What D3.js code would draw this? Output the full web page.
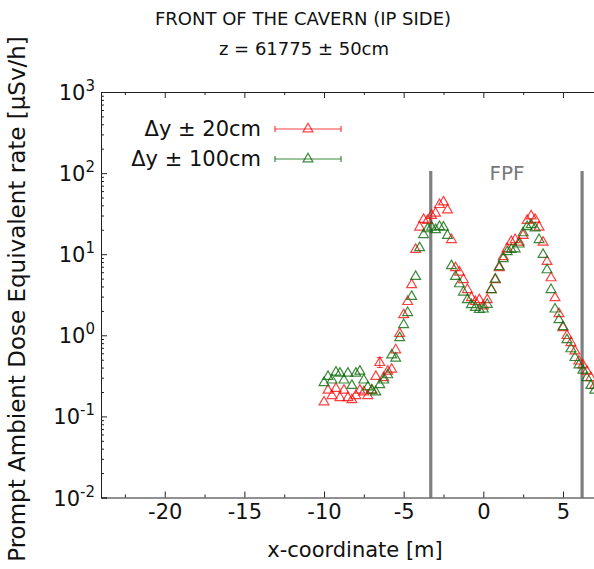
<!DOCTYPE html>
<html>
<head>
<meta charset="utf-8">
<script src="https://cdn.jsdelivr.net/npm/d3@7"></script>
<style>
  html, body { margin: 0; padding: 0; background: #fff; }
  svg { display: block; font-family: "DejaVu Sans", sans-serif; }
</style>
</head>
<body>
<svg id="chart" width="594" height="569"></svg>
<script>
// x positions of the bins [m]
const xBins = d3.range(0, 69).map(i => -10 + i * 0.25);

// Dose rate [µSv/h], Δy ± 20cm
const dose20 = [
  0.15, 0.21, 0.18, 0.22, 0.17, 0.21, 0.17, 0.16, 0.18, 0.21,
  0.20, 0.18, 0.21, 0.31, 0.46, 0.30, 0.36, 0.38, 0.66, 1.05,
  1.79, 2.6, 4.2, 11.4, 21.5, 26.7, 26, 30, 32, 40.8,
  44, 35, 15.1, 6.8, 6.0, 4.84, 3.65, 2.9, 2.6, 2.74,
  2.3, 2.74, 3.65, 4.84, 6.8, 9.3, 11.7, 14.3, 15.1, 14,
  17, 26, 29.5, 26.7, 21.5, 14, 8.1, 5.1, 2.9, 1.84,
  1.24, 0.99, 0.81, 0.64, 0.48, 0.43, 0.36, 0.30, 0.24
];

// Dose rate [µSv/h], Δy ± 100cm
const dose100 = [
  0.26, 0.31, 0.28, 0.35, 0.34, 0.28, 0.34, 0.24, 0.34, 0.36,
  0.28, 0.23, 0.21, 0.20, 0.245, 0.28, 0.325, 0.57, 0.52, 0.93,
  1.35, 1.9, 3.0, 5.3, 12.0, 17.4, 20.5, 21.5, 20, 21.8,
  21.5, 17, 7.2, 5.3, 4.3, 3.4, 2.74, 2.38, 2.2, 2.07,
  2.1, 2.4, 3.65, 4.9, 7.0, 8.8, 10.7, 11.4, 11.6, 13.3,
  18.3, 21.8, 23, 21, 15.1, 9.9, 6.4, 3.65, 2.1, 1.55,
  1.27, 0.88, 0.68, 0.53, 0.43, 0.37, 0.30, 0.24, 0.21
];

// statistical error on the Δy ± 20cm point at x = -6.5 m
const errX = [-6.5];
const errLo = [0.40];
const errHi = [0.53];

const xMajorTicks = [-20, -15, -10, -5, 0, 5];
const xMinorTicks = [-22.5, -17.5, -12.5, -7.5, -2.5, 2.5];
const yDecades = [-2, -1, 0, 1, 2, 3];
const fpfEdges = [-3.3, 6.2];
const seriesNames = ["Δy ± 20cm", "Δy ± 100cm"];

const svg = d3.select("#chart");
const plotLeft = 101, plotTop = 92, plotBottom = 497.5;
const pxPerMetre = 15.93;

const x = d3.scaleLinear().domain([-24, 24]).range([plotLeft, plotLeft + 48 * pxPerMetre]);
const y = d3.scaleLog().domain([1e-2, 1e3]).range([plotBottom, plotTop]);

const axisColor = "#222";
const red = "#ff0000", green = "#0b6b0b";

// Title
svg.append("text").attr("x", 303).attr("y", 25).attr("text-anchor", "middle")
  .attr("font-size", 18).attr("fill", "#111").text("FRONT OF THE CAVERN (IP SIDE)");
svg.append("text").attr("x", 304).attr("y", 55).attr("text-anchor", "middle")
  .attr("font-size", 18).attr("fill", "#111").text("z = 61775 ± 50cm");

// FPF boundaries
svg.append("g").selectAll("line").data(fpfEdges).join("line")
  .attr("x1", d => x(d)).attr("x2", d => x(d))
  .attr("y1", 171).attr("y2", plotBottom)
  .attr("stroke", "#7f7f7f").attr("stroke-width", 3.2);
svg.append("text").attr("x", 507).attr("y", 180).attr("text-anchor", "middle")
  .attr("font-size", 20).attr("fill", "#777").text("FPF");

// Axes
function styleAxis(g) {
  g.select(".domain").attr("stroke", axisColor);
  g.selectAll(".tick line").attr("stroke", axisColor);
  g.selectAll(".tick text").attr("fill", "#111").attr("font-size", 21)
    .attr("font-family", "DejaVu Sans, sans-serif");
}

svg.append("g").attr("transform", `translate(0,${plotBottom})`)
  .call(d3.axisBottom(x).tickValues(xMajorTicks).tickSize(-6).tickPadding(7)
    .tickFormat(d => d < 0 ? "-" + Math.abs(d) : String(d)))
  .call(styleAxis);
svg.append("g").attr("transform", `translate(0,${plotBottom})`)
  .call(d3.axisBottom(x).tickValues(xMinorTicks).tickSize(-3).tickFormat(""))
  .call(g => g.select(".domain").remove()).call(styleAxis);

svg.append("g").attr("transform", `translate(0,${plotTop})`)
  .call(d3.axisTop(x).tickValues(xMajorTicks).tickSize(-6).tickFormat(""))
  .call(styleAxis);
svg.append("g").attr("transform", `translate(0,${plotTop})`)
  .call(d3.axisTop(x).tickValues(xMinorTicks).tickSize(-3).tickFormat(""))
  .call(g => g.select(".domain").remove()).call(styleAxis);

const yMinor = [];
yDecades.slice(0, -1).forEach(e => { for (let m = 2; m <= 9; m++) yMinor.push(m * Math.pow(10, e)); });

svg.append("g").attr("transform", `translate(${plotLeft},0)`)
  .call(d3.axisLeft(y).tickValues(yDecades.map(e => Math.pow(10, e))).tickSize(-6).tickFormat(""))
  .call(styleAxis);
svg.append("g").attr("transform", `translate(${plotLeft},0)`)
  .call(d3.axisLeft(y).tickValues(yMinor).tickSize(-3).tickFormat(""))
  .call(g => g.select(".domain").remove()).call(styleAxis);

// Decade labels 10^n
const yl = svg.append("g").attr("font-size", 21).attr("fill", "#111");
yDecades.forEach(e => {
  const t = yl.append("text").attr("x", 95).attr("y", y(Math.pow(10, e)) + 8)
    .attr("text-anchor", "end");
  t.append("tspan").text("10");
  t.append("tspan").attr("dy", -9).attr("font-size", 15).text(String(e));
});

// Axis titles
svg.append("text").attr("x", 355).attr("y", 557).attr("text-anchor", "middle")
  .attr("font-size", 21).attr("fill", "#111").text("x-coordinate [m]");
svg.append("text").attr("transform", "translate(25,299) rotate(-90)")
  .attr("text-anchor", "middle").attr("font-size", 23).attr("fill", "#111")
  .text("Prompt Ambient Dose Equivalent rate [µSv/h]");

// Data markers
const tri = d3.symbol().type(d3.symbolTriangle).size(42);
const plot = svg.append("g");

// error bar
const eb = plot.append("g").attr("stroke", red).attr("stroke-opacity", 0.75).attr("stroke-width", 1);
errX.forEach((xv, i) => {
  eb.append("line").attr("x1", x(xv)).attr("x2", x(xv)).attr("y1", y(errLo[i])).attr("y2", y(errHi[i]));
  eb.append("line").attr("x1", x(xv) - 3).attr("x2", x(xv) + 3).attr("y1", y(errHi[i])).attr("y2", y(errHi[i]));
  eb.append("line").attr("x1", x(xv) - 3).attr("x2", x(xv) + 3).attr("y1", y(errLo[i])).attr("y2", y(errLo[i]));
});

function drawSeries(values, color, opacity) {
  plot.append("g").selectAll("path").data(values.map((v, i) => [xBins[i], v])).join("path")
    .attr("d", tri)
    .attr("transform", d => `translate(${x(d[0])},${y(d[1])})`)
    .attr("fill", "none").attr("stroke", color).attr("stroke-opacity", opacity)
    .attr("stroke-width", 1.2);
}
drawSeries(dose20, red, 0.75);
drawSeries(dose100, green, 0.8);

// Legend
const legend = svg.append("g");
[[red, 0.75], [green, 0.8]].forEach(([c, op], i) => {
  const ly = 129 + i * 30;
  legend.append("text").attr("x", 261).attr("y", ly + 7).attr("text-anchor", "end")
    .attr("font-size", 21).attr("fill", "#111").text(seriesNames[i]);
  const g = legend.append("g").attr("stroke", c).attr("stroke-opacity", op).attr("fill", "none");
  g.append("line").attr("x1", 275).attr("x2", 341).attr("y1", ly).attr("y2", ly).attr("stroke-width", 1.2);
  g.append("line").attr("x1", 275).attr("x2", 275).attr("y1", ly - 3).attr("y2", ly + 3).attr("stroke-width", 1.2);
  g.append("line").attr("x1", 341).attr("x2", 341).attr("y1", ly - 3).attr("y2", ly + 3).attr("stroke-width", 1.2);
  g.append("path").attr("d", tri).attr("transform", `translate(308,${ly})`).attr("stroke-width", 1.2);
});
</script>
</body>
</html>
